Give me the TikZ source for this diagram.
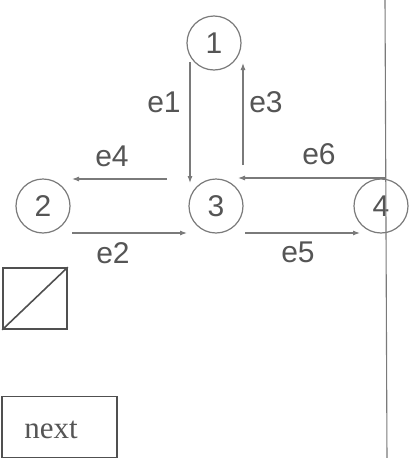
\documentclass[tikz,border=0pt]{standalone}
\usepackage{fontspec}
\setmainfont{Liberation Sans}
\newfontfamily\seriffont{Liberation Serif}
\usetikzlibrary{arrows.meta}
\definecolor{ln}{HTML}{7A7A7A}
\definecolor{tx}{HTML}{555555}
\definecolor{bx}{HTML}{505050}
\tikzset{
  vertex/.style={circle, draw=ln, line width=1.2pt, minimum size=54pt, inner sep=0pt, font=\fontsize{30}{30}\selectfont, text=tx},
  edgelbl/.style={font=\fontsize{30}{30}\selectfont, text=tx, inner sep=0pt},
  conn/.style={draw=ln, line width=1.1pt, -{Latex[length=7pt,width=5pt]}},
  plain/.style={draw=ln, line width=1.1pt},
  boxsq/.style={draw=bx, line width=1.6pt, inner sep=0pt}
}
\begin{document}
\begin{tikzpicture}[x=1pt,y=-1pt]
\useasboundingbox (0,0) rectangle (411,458);
\node[vertex] (n1) at (214,43) {1};
\node[vertex] (n2) at (43,206) {2};
\node[vertex] (n3) at (216,206) {3};
\node[vertex] (n4) at (381,206) {4};
\coordinate (top) at (385,-2);
\coordinate (bot) at (387,460);
\draw[plain] (top) -- (bot);
\draw[conn] ([shift={(-24,19)}]n1.center) -- ([shift={(-26,-23)}]n3.center);
\draw[conn] ([shift={(27,-41)}]n3.center) -- ([shift={(29,20)}]n1.center);
\draw[conn] ([shift={(-49,-27)}]n3.center) -- ([shift={(29,-27)}]n2.center);
\draw[conn] ([shift={(29,27)}]n2.center) -- ([shift={(-29,27)}]n3.center);
\draw[conn] ([shift={(29,27)}]n3.center) -- ([shift={(-21,27)}]n4.center);
\draw[conn] ([shift={(4,-28)}]n4.center) -- ([shift={(22,-28)}]n3.center);
\node[edgelbl] (l1) at (164,102) {e1};
\node[edgelbl] (l3) at (266,102) {e3};
\node[edgelbl] (l4) at (112,156) {e4};
\node[edgelbl] (l6) at (319,154) {e6};
\node[edgelbl] (l2) at (113,253) {e2};
\node[edgelbl] (l5) at (298,252) {e5};
\node[boxsq, minimum width=64pt, minimum height=61pt] (sq) at (35,298.5) {};
\draw[draw=bx, line width=1.6pt] (sq.south west) -- (sq.north east);
\node[boxsq, minimum width=115pt, minimum height=61pt] (next) at (59.5,427) {};
\node[font=\seriffont\fontsize{31}{31}\selectfont, text=tx, inner sep=0pt] (nextlbl) at (51,430) {next};
\end{tikzpicture}
\end{document}
